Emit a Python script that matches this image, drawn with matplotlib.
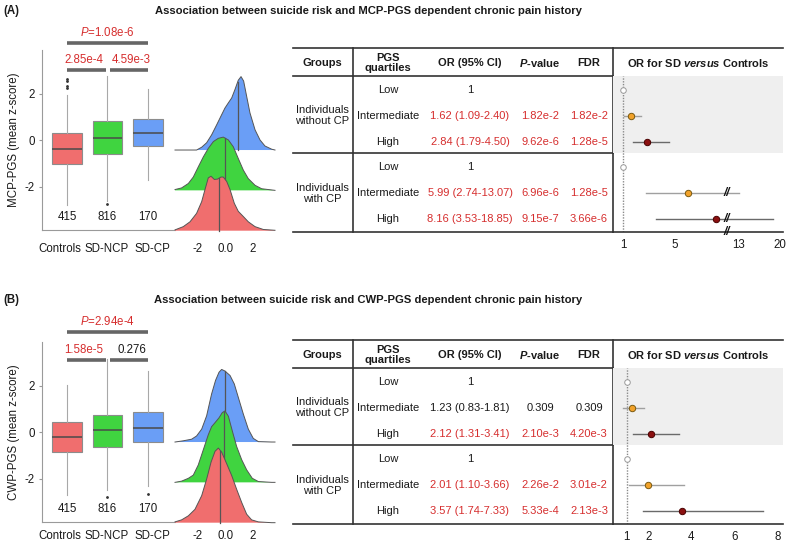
import numpy as np
import matplotlib
matplotlib.use("Agg")
import matplotlib.pyplot as plt

plt.rcParams['font.family'] = 'Liberation Sans'
plt.rcParams['mathtext.fontset'] = 'custom'
plt.rcParams['mathtext.rm'] = 'Liberation Sans'
plt.rcParams['mathtext.it'] = 'Liberation Sans:italic'
plt.rcParams['mathtext.bf'] = 'Liberation Sans:bold'
plt.rcParams['mathtext.bfit'] = 'Liberation Sans:italic:bold'
plt.rcParams['axes.unicode_minus'] = False

# ---------------- data ----------------
groups = ["Controls", "SD-NCP", "SD-CP"]
n_counts = [415, 816, 170]
box_colors = ["#F06E6E", "#40D440", "#6A9EF6"]

# box stats, panel A (MCP-PGS)
mcp_q1 = [-1.03, -0.60, -0.25]
mcp_med = [-0.39, 0.08, 0.33]
mcp_q3 = [0.30, 0.83, 0.93]
mcp_whislo = [-2.78, -2.62, -1.72]
mcp_whishi = [1.93, 2.75, 2.20]
mcp_fliers = [[2.25, 2.35, 2.55, 2.62], [-2.76], []]
mcp_pvals = ["1.08e-6", "2.85e-4", "4.59e-3"]

# box stats, panel B (CWP-PGS)
cwp_q1 = [-0.86, -0.64, -0.42]
cwp_med = [-0.20, 0.09, 0.17]
cwp_q3 = [0.45, 0.74, 0.88]
cwp_whislo = [-2.70, -2.48, -2.30]
cwp_whishi = [2.04, 3.14, 2.62]
cwp_fliers = [[], [-2.77], [-2.65]]
cwp_pvals = ["2.94e-4", "1.58e-5", "0.276"]
pval_sig = {"mcp": [True, True, True], "cwp": [True, True, False]}

# ridge densities (Controls, SD-NCP, SD-CP)
mcp_red_x = [-3.67, -3.07, -2.58, -2.10, -1.73, -1.49, -1.25, -1.05, -0.81, -0.57, -0.33, -0.16,
             0.09, 0.33, 0.64, 0.93, 1.30, 1.66, 2.15, 2.75, 3.60]
mcp_red_h = [0.02, 0.10, 0.22, 0.43, 0.72, 1.02, 1.31, 1.35, 1.27, 1.28, 1.33, 1.33,
             1.22, 1.02, 0.68, 0.48, 0.35, 0.22, 0.10, 0.03, 0.01]
mcp_green_x = [-3.67, -3.19, -2.70, -2.34, -1.98, -1.61, -1.25, -0.88, -0.52, -0.16, 0.21, 0.57,
               0.93, 1.30, 1.66, 2.15, 2.63, 3.36, 3.60]
mcp_green_h = [0.02, 0.06, 0.17, 0.33, 0.58, 0.83, 1.04, 1.21, 1.29, 1.32, 1.25, 1.08,
               0.79, 0.50, 0.29, 0.125, 0.04, 0.01, 0.0]
mcp_blue_x = [-3.67, -2.10, -1.73, -1.37, -1.01, -0.64, -0.28, -0.04, 0.21, 0.45, 0.69, 0.93,
              1.13, 1.32, 1.54, 1.78, 2.15, 2.51, 2.87, 3.36, 3.60]
mcp_blue_h = [0.0, 0.0, 0.07, 0.18, 0.375, 0.625, 0.875, 1.04, 1.17, 1.29, 1.50, 1.73,
              1.82, 1.71, 1.33, 0.92, 0.50, 0.25, 0.10, 0.02, 0.0]
mcp_ridge_med = [-0.45, -0.04, 0.89]

cwp_red_x = [-3.67, -3.19, -2.70, -2.22, -1.73, -1.37, -1.05, -0.76, -0.52, -0.28, 0.09, 0.45,
             0.81, 1.18, 1.54, 1.90, 2.39, 3.36, 3.60]
cwp_red_h = [0.02, 0.07, 0.17, 0.33, 0.67, 1.08, 1.50, 1.77, 1.85, 1.75, 1.46, 1.17,
             0.83, 0.50, 0.21, 0.07, 0.02, 0.0, 0.0]
cwp_green_x = [-3.67, -3.19, -2.70, -2.34, -1.98, -1.61, -1.25, -1.01, -0.76, -0.47, -0.23, -0.04,
               0.21, 0.50, 0.81, 1.18, 1.54, 1.95, 2.39, 3.36, 3.60]
cwp_green_h = [0.0, 0.03, 0.10, 0.18, 0.43, 0.81, 1.18, 1.38, 1.48, 1.60, 1.73, 1.77,
               1.64, 1.27, 0.89, 0.56, 0.31, 0.10, 0.02, 0.0, 0.0]
cwp_blue_x = [-3.67, -3.07, -2.46, -2.10, -1.73, -1.37, -1.01, -0.72, -0.47, -0.28, -0.04, 0.33,
              0.64, 0.93, 1.30, 1.66, 2.02, 2.39, 3.36, 3.60]
cwp_blue_h = [0.0, 0.03, 0.07, 0.15, 0.32, 0.65, 1.19, 1.53, 1.73, 1.80, 1.76, 1.65,
              1.44, 1.11, 0.69, 0.32, 0.09, 0.01, 0.0, 0.0]
cwp_ridge_med = [-0.37, -0.13, -0.04]
ridge_ticks = [-2, 0, 2]
ridge_ticklabels = ["-2", "0.0", "2"]

# table / forest
quartiles = ["Low", "Intermediate", "High", "Low", "Intermediate", "High"]
group_labels = ["Individuals\nwithout CP", "Individuals\nwith CP"]
mcp_or = [1, 1.62, 2.84, 1, 5.99, 8.16]
mcp_lo = [np.nan, 1.09, 1.79, np.nan, 2.74, 3.53]
mcp_hi = [np.nan, 2.40, 4.50, np.nan, 13.07, 18.85]
mcp_p = ["", "1.82e-2", "9.62e-6", "", "6.96e-6", "9.15e-7"]
mcp_fdr = ["", "1.82e-2", "1.28e-5", "", "1.28e-5", "3.66e-6"]
mcp_sig = [False, True, True, False, True, True]
mcp_forest_ticks = [1, 5, 13, 20]

cwp_or = [1, 1.23, 2.12, 1, 2.01, 3.57]
cwp_lo = [np.nan, 0.83, 1.31, np.nan, 1.10, 1.74]
cwp_hi = [np.nan, 1.81, 3.41, np.nan, 3.66, 7.33]
cwp_p = ["", "0.309", "2.10e-3", "", "2.26e-2", "5.33e-4"]
cwp_fdr = ["", "0.309", "4.20e-3", "", "3.01e-2", "2.13e-3"]
cwp_sig = [False, False, True, False, True, True]
cwp_forest_ticks = [1, 2, 4, 6, 8]

RED = "#D62E2E"
TXT = "#1a1a1a"
W, H = 790, 544

fig = plt.figure(figsize=(7.9, 5.44), dpi=100)


def rect(x0, y0, x1, y1):
    # pixel box (origin top-left) -> figure fraction
    return [x0 / W, 1 - y1 / H, (x1 - x0) / W, (y1 - y0) / H]


canvas = fig.add_axes([0, 0, 1, 1])
canvas.set_xlim(0, W)
canvas.set_ylim(H, 0)
canvas.axis("off")


# broken x scale for panel A forest plot
def fwd(x):
    x = np.asarray(x, float)
    return np.where(x <= 9, x, np.where(x <= 13, 9 + (x - 9) * 0.2308, 9.923 + (x - 13) * 0.4508))


def inv(f):
    f = np.asarray(f, float)
    return np.where(f <= 9, f, np.where(f <= 9.923, 9 + (f - 9) / 0.2308, 13 + (f - 9.923) / 0.4508))


panels = [
    dict(dy=0, tag="(A)", pgs="MCP", lpad=9,
         q1=mcp_q1, med=mcp_med, q3=mcp_q3, lo=mcp_whislo, hi=mcp_whishi, fl=mcp_fliers,
         pv=mcp_pvals, psig=pval_sig["mcp"],
         ridges=[(mcp_blue_x, mcp_blue_h), (mcp_green_x, mcp_green_h), (mcp_red_x, mcp_red_h)],
         rmed=mcp_ridge_med,
         orv=mcp_or, orlo=mcp_lo, orhi=mcp_hi, p=mcp_p, fdr=mcp_fdr, sig=mcp_sig,
         fticks=mcp_forest_ticks, broken=True),
    dict(dy=292, tag="(B)", pgs="CWP", lpad=6,
         q1=cwp_q1, med=cwp_med, q3=cwp_q3, lo=cwp_whislo, hi=cwp_whishi, fl=cwp_fliers,
         pv=cwp_pvals, psig=pval_sig["cwp"],
         ridges=[(cwp_blue_x, cwp_blue_h), (cwp_green_x, cwp_green_h), (cwp_red_x, cwp_red_h)],
         rmed=cwp_ridge_med,
         orv=cwp_or, orlo=cwp_lo, orhi=cwp_hi, p=cwp_p, fdr=cwp_fdr, sig=cwp_sig,
         fticks=cwp_forest_ticks, broken=False),
]

for P in panels:
    dy = P["dy"]
    tdy = dy - 3 if dy else 0
    canvas.text(3, 11 + tdy, P["tag"], fontsize=8.3, fontweight="bold", ha="left", va="center", color=TXT)
    canvas.text(368, 11 + tdy,
                f"Association between suicide risk and {P['pgs']}-PGS dependent chronic pain history",
                fontsize=8.1, fontweight="bold", ha="center", va="center", color=TXT)

    # ---- box plot ----
    ax = fig.add_axes(rect(42, 50 + dy, 175, 230 + dy))
    ax.set_facecolor("none")
    stats = [dict(med=m, q1=a, q3=b, whislo=lo, whishi=hi, fliers=f, label=g)
             for m, a, b, lo, hi, f, g in zip(P["med"], P["q1"], P["q3"], P["lo"], P["hi"], P["fl"], groups)]
    bp = ax.bxp(stats, positions=[1, 2, 3], widths=0.74, patch_artist=True, showcaps=False,
                boxprops=dict(edgecolor="#8c8c8c", linewidth=0.8),
                medianprops=dict(color="#4a4a4a", linewidth=1.1),
                whiskerprops=dict(color="#a8a8a8", linewidth=0.8),
                flierprops=dict(marker="o", markersize=1.0, markerfacecolor="#333333",
                                markeredgecolor="#333333"))
    for patch, c in zip(bp["boxes"], box_colors):
        patch.set_facecolor(c)
    ax.set_xlim(0.38, 3.67)
    ax.set_ylim(-3.86, 3.88)
    for s in ["top", "right"]:
        ax.spines[s].set_visible(False)
    for s in ["left", "bottom"]:
        ax.spines[s].set_color("#9a9a9a")
        ax.spines[s].set_linewidth(0.8)
    ax.set_yticks([-2, 0, 2])
    ax.set_xticks([0.82, 1.97, 3.11])
    ax.set_xticklabels(groups)
    ax.tick_params(axis="y", length=2, color="#9a9a9a", labelsize=8.3, pad=3, labelcolor=TXT)
    ax.tick_params(axis="x", length=0, labelsize=8.3, pad=P["lpad"], labelcolor=TXT)
    ax.set_ylabel(f"{P['pgs']}-PGS (mean z-score)", fontsize=8.3, color=TXT)
    ax.yaxis.set_label_coords(-0.165, 0.5)
    for pos, n in zip([1, 2, 3], n_counts):
        ax.text(pos, -3.3, str(n), ha="center", va="center", fontsize=8.3, color=TXT)
    # significance brackets
    br = dict(color="#666666", lw=2.6, solid_capstyle="butt", clip_on=False)
    ytop, ylow = (4.2, 3.0) if dy == 0 else (4.3, 3.09)
    ax.plot([1, 3], [ytop, ytop], **br)
    ax.plot([1, 1.96], [ylow, ylow], **br)
    ax.plot([2.06, 3], [ylow, ylow], **br)
    ax.text(2.01, ytop + 0.45, r"$\it{P}$=" + P["pv"][0], color=RED if P["psig"][0] else TXT,
            ha="center", va="center", fontsize=8.3, clip_on=False)
    ax.text(1.42, ylow + 0.45, P["pv"][1], color=RED if P["psig"][1] else TXT,
            ha="center", va="center", fontsize=8.3)
    ax.text(2.6, ylow + 0.45, P["pv"][2], color=RED if P["psig"][2] else TXT,
            ha="center", va="center", fontsize=8.3)

    # ---- ridge plot ----
    axr = fig.add_axes(rect(175, 50 + dy, 275, 230 + dy))
    axr.set_facecolor("none")
    offs = [2, 1, 0]
    cols = [box_colors[2], box_colors[1], box_colors[0]]
    meds = [P["rmed"][2], P["rmed"][1], P["rmed"][0]]
    for k, ((xs, hs), off, c, md) in enumerate(zip(P["ridges"], offs, cols, meds)):
        xs = np.array(xs)
        hs = np.array(hs)
        axr.fill_between(xs, off, off + hs, facecolor=c, edgecolor="none", zorder=2 + k, clip_on=False)
        axr.plot(xs, off + hs, color="#555555", lw=0.7, zorder=2.5 + k, clip_on=False)
        axr.plot([md, md], [off, off + np.interp(md, xs, hs)], color="#555555", lw=0.9,
                 zorder=2.6 + k, clip_on=False)
    axr.set_xlim(-3.67, 3.6)
    axr.set_ylim(0.017, 4.48)
    for s in axr.spines.values():
        s.set_visible(False)
    axr.set_yticks([])
    axr.set_xticks(ridge_ticks)
    axr.set_xticklabels(ridge_ticklabels)
    axr.tick_params(axis="x", length=0, labelsize=8.3, pad=P["lpad"], labelcolor=TXT)

    # ---- table ----
    L, R, VX, TX = 293, 783, 353, 613
    top, hdr, mid, bot = 48 + dy, 76 + dy, 153 + dy, 232 + dy
    ln = dict(color="#333333", lw=1.2)
    canvas.plot([L, R], [top, top], **ln)
    canvas.plot([L, TX], [hdr, hdr], **ln)
    canvas.plot([L, TX], [mid, mid], **ln)
    canvas.plot([L, TX], [bot, bot], **ln)
    canvas.plot([VX, VX], [top, bot], **ln)
    canvas.plot([TX, TX], [top, bot], **ln)
    hy = 63 + dy
    hk = dict(fontsize=8, fontweight="bold", ha="center", va="center", color=TXT)
    canvas.text(322, hy, "Groups", **hk)
    canvas.text(388, hy, "PGS\nquartiles", linespacing=0.95, **hk)
    canvas.text(470, hy, "OR (95% CI)", **hk)
    canvas.text(540, hy, r"$\bfit{P}$-value", **hk)
    canvas.text(589, hy, "FDR", **hk)
    canvas.text(698, hy, r"OR for SD $\bfit{versus}$ Controls", **hk)
    rows_y = [90 + i * 25.8 + dy for i in range(6)]
    tk = dict(fontsize=8, ha="center", va="center")
    canvas.text(322, rows_y[1], group_labels[0], linespacing=1.1, color=TXT, **tk)
    canvas.text(322, rows_y[4], group_labels[1], linespacing=1.1, color=TXT, **tk)
    for i in range(6):
        c = RED if P["sig"][i] else TXT
        canvas.text(388, rows_y[i], quartiles[i], color=TXT, **tk)
        if np.isnan(P["orlo"][i]):
            canvas.text(470, rows_y[i], f"{P['orv'][i]:g}", color=TXT, **tk)
        else:
            canvas.text(470, rows_y[i], f"{P['orv'][i]:.2f} ({P['orlo'][i]:.2f}-{P['orhi'][i]:.2f})",
                        color=c, **tk)
        canvas.text(540, rows_y[i], P["p"][i], color=c, **tk)
        canvas.text(589, rows_y[i], P["fdr"][i], color=c, **tk)

    # ---- forest plot ----
    axf = fig.add_axes(rect(TX, hdr, R, bot))
    axf.set_facecolor("none")
    if P["broken"]:
        axf.set_xscale("function", functions=(fwd, inv))
        axf.set_xlim(0.23, 20.5)
    else:
        axf.set_xlim(0.363, 8.27)
    axf.set_ylim(5.5, -0.54)
    axf.axhspan(-0.54, 2.45, color="#EFEFEF", lw=0, zorder=0)
    axf.axvline(1, color="#8a8a8a", ls=(0, (1, 1)), lw=1.0, zorder=1)
    mk = ["w", "#F2A22A", "#8B1010"]
    me = ["#9a9a9a", "#7a5a10", "#4a0000"]
    lc = ["#9a9a9a", "#a0a0a0", "#6a6a6a"]
    for i in range(6):
        q = i % 3
        if not np.isnan(P["orlo"][i]):
            axf.plot([P["orlo"][i], P["orhi"][i]], [i, i], color=lc[q], lw=1.0, zorder=2)
        axf.plot(P["orv"][i], i, "o", ms=4.6 if q else 4.0, mfc=mk[q], mec=me[q], mew=0.7, zorder=3)
    if P["broken"]:
        for yy in [4, 5, 5.5]:
            axf.text(9, yy, "//", fontsize=8.5, fontweight="bold", fontstyle="italic",
                     ha="center", va="center", color="#111111", zorder=4, clip_on=False)
    for s in ["top", "right", "left"]:
        axf.spines[s].set_visible(False)
    axf.spines["bottom"].set_color("#333333")
    axf.spines["bottom"].set_linewidth(1.2)
    axf.set_yticks([])
    axf.set_xticks(P["fticks"])
    axf.set_xticklabels([str(t) for t in P["fticks"]])
    axf.xaxis.set_minor_locator(matplotlib.ticker.NullLocator())
    axf.tick_params(axis="x", length=0, labelsize=8.3, pad=5, labelcolor=TXT)

fig.savefig("out.png", dpi=100)
